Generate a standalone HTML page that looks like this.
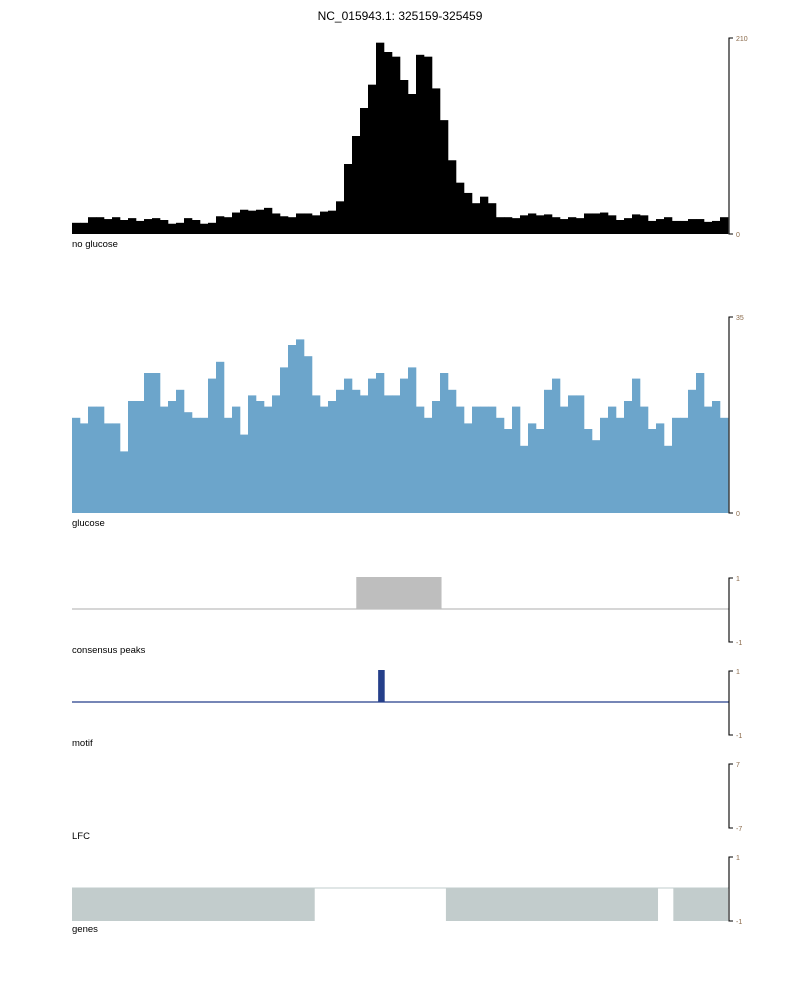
<!DOCTYPE html>
<html><head><meta charset="utf-8"><style>
body{margin:0;background:#fff;}
svg{display:block;font-family:"Liberation Sans",sans-serif;}
.tick{font-size:7px;fill:#8a6a4a;}
.lab{font-size:9.5px;fill:#000;}
</style></head><body>
<svg id="chart" width="800" height="1000" viewBox="0 0 800 1000">
<text x="400" y="20" text-anchor="middle" font-size="12">NC_015943.1: 325159-325459</text>
<g id="t1"></g>
<text class="lab" x="72" y="247">no glucose</text>
<g id="t2"></g>
<text class="lab" x="72" y="526">glucose</text>
<g id="t3"></g>
<text class="lab" x="72" y="653">consensus peaks</text>
<g id="t4"></g>
<text class="lab" x="72" y="746">motif</text>
<g id="t5"></g>
<text class="lab" x="72" y="839">LFC</text>
<g id="t6"></g>
<text class="lab" x="72" y="932">genes</text>
</svg>
<script>
const noGlucose=[12,12,18,18,16,18,15,17,14,16,17,15,11,12,17,15,11,12,19,18,23,26,25,26,28,22,19,18,22,22,20,24,25,35,75,105,135,160,205,195,190,165,150,192,190,156,122,79,55,44,33,40,33,18,18,17,20,22,20,21,18,16,18,17,22,22,23,20,15,17,21,20,14,16,18,14,14,16,16,13,14,18];
const glucose=[17,16,19,19,16,16,11,20,20,25,25,19,20,22,18,17,17,24,27,17,19,14,21,20,19,21,26,30,31,28,21,19,20,22,24,22,21,24,25,21,21,24,26,19,17,20,25,22,19,16,19,19,19,17,15,19,12,16,15,22,24,19,21,21,15,13,17,19,17,20,24,19,15,16,12,17,17,22,25,19,20,17];
const posStart=325159,posEnd=325459;
const peaks=[[325289,325328]];
const motifs=[[325299,325302]];
const genes=[[325100,325270],[325330,325427],[325434,325500]];
const ticks1=["210","0"],ticks2=["35","0"],ticksBin=["1","-1"],ticksLfc=["7","-7"];
const max1=210,max2=35;
const NS="http://www.w3.org/2000/svg";
const X0=72,X1=728;
function xs(p){return X0+(Math.max(posStart,Math.min(posEnd,p))-posStart)/(posEnd-posStart)*(X1-X0);}
function mk(tag,attrs,parent){const e=document.createElementNS(NS,tag);for(const k in attrs)e.setAttribute(k,attrs[k]);parent.appendChild(e);return e;}
function axis(g,top,bot,labels){
  const a=mk('path',{d:`M733 ${top}H729V${bot}H733`,stroke:'#000','stroke-width':1.1,fill:'none'},g);
  
  
  const t1=mk('text',{x:736,y:top+3,class:'tick'},g);t1.textContent=labels[0];
  
  
  const t2=mk('text',{x:736,y:bot+3,class:'tick'},g);t2.textContent=labels[1];
  
  
}
function bars(g,vals,max,top,bot,color){
  const w=(X1-X0)/vals.length;
  vals.forEach((v,i)=>{
    const h=v/max*(bot-top);
    const r=mk('rect',{x:X0+i*w,y:bot-h,width:w+0.3,height:h,fill:color},g);
    
    
  });
}
const t1=document.getElementById('t1');bars(t1,noGlucose,max1,38,234,'#000');axis(t1,38,234,ticks1);
const t2=document.getElementById('t2');bars(t2,glucose,max2,317,513,'#6ca5cb');axis(t2,317,513,ticks2);
const t3=document.getElementById('t3');
mk('line',{x1:72,x2:729,y1:609,y2:609,stroke:'#bdbdbd','stroke-width':1.3},t3);
peaks.forEach(p=>{const r=mk('rect',{x:xs(p[0]),y:577,width:xs(p[1])-xs(p[0]),height:32,fill:'#bebebe'},t3);
 
 });
axis(t3,578,642,ticksBin);
const t4=document.getElementById('t4');
mk('line',{x1:72,x2:729,y1:702,y2:702,stroke:'#253f8a','stroke-width':1.3},t4);
motifs.forEach(p=>{const r=mk('rect',{x:xs(p[0]),y:670,width:xs(p[1])-xs(p[0]),height:32,fill:'#253f8a'},t4);
 
 });
axis(t4,671,735,ticksBin);
const t5=document.getElementById('t5');axis(t5,764,828,ticksLfc);
const t6=document.getElementById('t6');
mk('line',{x1:72,x2:729,y1:888,y2:888,stroke:'#c2cccc','stroke-width':1},t6);
genes.forEach(p=>{const r=mk('rect',{x:xs(p[0]),y:888,width:xs(p[1])-xs(p[0]),height:33,fill:'#c2cccc'},t6);
 
 });
axis(t6,857,921,ticksBin);
</script>
</body></html>
